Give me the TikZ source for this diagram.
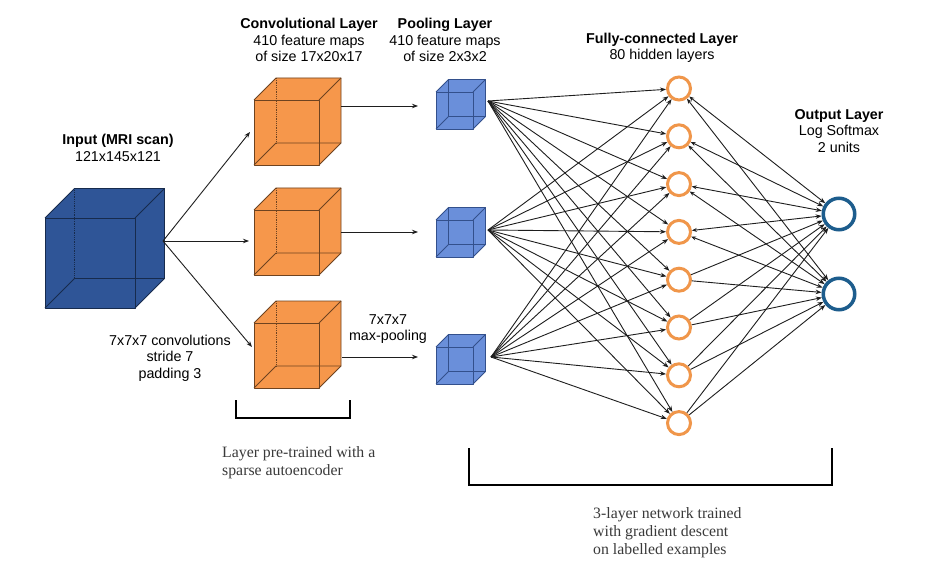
\documentclass[tikz,border=0pt]{standalone}
\usepackage{fontspec}
\setmainfont{Liberation Sans}
\newfontfamily\serifbody{Liberation Serif}
\usetikzlibrary{arrows.meta}
\definecolor{inblue}{HTML}{2F5597}
\definecolor{inedge}{HTML}{172B4D}
\definecolor{convor}{HTML}{F6974B}
\definecolor{convedge}{HTML}{6E4320}
\definecolor{poolblue}{HTML}{6A8FDA}
\definecolor{pooledge}{HTML}{33508C}
\definecolor{hidor}{HTML}{F0964A}
\definecolor{outblue}{HTML}{1D5D8D}
\definecolor{linegray}{HTML}{1E1E1E}
\definecolor{sertext}{HTML}{3A3A3A}
\newcommand{\mycube}[7]{%
\begin{scope}[shift={(#1,#2)}]
\fill[#5] (0,0) rectangle (#3,#3);
\fill[#5] (0,0) -- (#4,-#4) -- ({#3+#4},-#4) -- (#3,0) -- cycle;
\fill[#5] (#3,0) -- ({#3+#4},-#4) -- ({#3+#4},{#3-#4}) -- (#3,#3) -- cycle;
\draw[#6, line width=0.8pt, #7] (#4,-#4) -- (#4,{#3-#4});
\draw[#6, line width=0.8pt] (0,#3) -- (#4,{#3-#4}) -- ({#3+#4},{#3-#4});
\draw[#6, line width=0.8pt, line join=round] (0,0) rectangle (#3,#3);
\draw[#6, line width=0.8pt, line join=round] (0,0) -- (#4,-#4) -- ({#3+#4},-#4) -- ({#3+#4},{#3-#4}) -- (#3,#3);
\draw[#6, line width=0.8pt] (#3,0) -- ({#3+#4},-#4);
\end{scope}}
\tikzset{
  sans/.style={font=\fontsize{14.3}{16.5}\selectfont, align=center, inner sep=0pt},
  sertxt/.style={font=\serifbody\fontsize{15.8}{18}\selectfont, align=left, inner sep=0pt, text=sertext, anchor=west},
  arr/.style={draw=linegray, line width=0.9pt, -{Stealth[length=6pt,width=4.5pt]}},
  darr/.style={draw=linegray, line width=0.9pt, {Stealth[length=5pt,width=4pt]}-{Stealth[length=6pt,width=4.5pt]}},
  hid/.style={circle, draw=hidor, line width=3pt, minimum size=23pt, inner sep=0pt},
  outn/.style={circle, draw=outblue, line width=3.5pt, minimum size=31.5pt, inner sep=0pt},
  bracket/.style={draw=black, line width=2.5pt, line cap=butt, line join=miter}
}
\begin{document}
\begin{tikzpicture}[x=1pt, y=-1pt]
\useasboundingbox (0,0) rectangle (930,583);
\fill[white] (0,0) rectangle (930,583);
% cubes
\mycube{45}{218}{90}{29.5}{inblue}{inedge}{densely dotted}
\mycube{254}{100}{65}{22}{convor}{convedge}{densely dotted}
\mycube{254}{210}{65}{22}{convor}{convedge}{densely dotted}
\mycube{254}{323}{65}{22}{convor}{convedge}{densely dotted}
\mycube{436}{92}{37}{12.5}{poolblue}{pooledge}{solid}
\mycube{436}{220}{37}{12.5}{poolblue}{pooledge}{solid}
\mycube{436}{347}{37}{12.5}{poolblue}{pooledge}{solid}
% connection points
\coordinate (inp-out) at (163,241);
\coordinate (c1-in) at (250,132);
\coordinate (c2-in) at (249,241);
\coordinate (c3-in) at (252,347);
\coordinate (c1-out) at (341,106);
\coordinate (c2-out) at (341,232);
\coordinate (c3-out) at (342,357);
\coordinate (p1-in) at (418,106);
\coordinate (p2-in) at (418,232);
\coordinate (p3-in) at (418,357);
\coordinate (p1-out) at (488,101);
\coordinate (p2-out) at (488,230);
\coordinate (p3-out) at (491,357);
% input to conv
\foreach \c in {c1,c2,c3} \draw[arr] (inp-out) -- (\c-in);
% conv to pool
\foreach \c in {1,2,3} \draw[arr] (c\c-out) -- (p\c-in);
% hidden nodes
\foreach \i in {1,...,8} \node[hid] (h\i) at (679,{88.5+47.8*(\i-1)}) {};
% output nodes
\node[outn] (o1) at (839,214) {};
\node[outn] (o2) at (839,294) {};
% pool to hidden
\foreach \p in {p1,p2,p3} \foreach \i in {1,...,8} \draw[arr] (\p-out) -- (h\i);
% hidden to output
\foreach \i in {1,...,4} \foreach \o in {o1,o2} \draw[darr] (h\i) -- (\o);
\foreach \i in {5,...,8} \foreach \o in {o1,o2} \draw[arr] (h\i) -- (\o);
% labels
\node[sans] (tin) at (118,148) {\textbf{Input (MRI scan)}\\121x145x121};
\node[sans] (tconv) at (309,40) {\textbf{Convolutional Layer}\\410 feature maps\\of size 17x20x17};
\node[sans] (tpool) at (445,40) {\textbf{Pooling Layer}\\410 feature maps\\of size 2x3x2};
\node[sans] (tfc) at (662,48) {\textbf{Fully-connected Layer}\\80 hidden layers};
\node[sans] (tout) at (839,131) {\textbf{Output Layer}\\Log Softmax\\2 units};
\node[sans] (tcv) at (170,358) {7x7x7 convolutions\\stride 7\\padding 3};
\node[sans] (tmp) at (388,329) {7x7x7\\max-pooling};
% brackets
\draw[bracket] (236,400) -- (236,418) -- (350,418) -- (350,400);
\draw[bracket] (469,448) -- (469,485) -- (832,485) -- (832,448);
\node[sertxt] (tpre) at (222,463) {Layer pre-trained with a\\sparse autoencoder};
\node[sertxt] (tnet) at (593,533) {3-layer network trained\\with gradient descent\\on labelled examples};
\end{tikzpicture}
\end{document}
